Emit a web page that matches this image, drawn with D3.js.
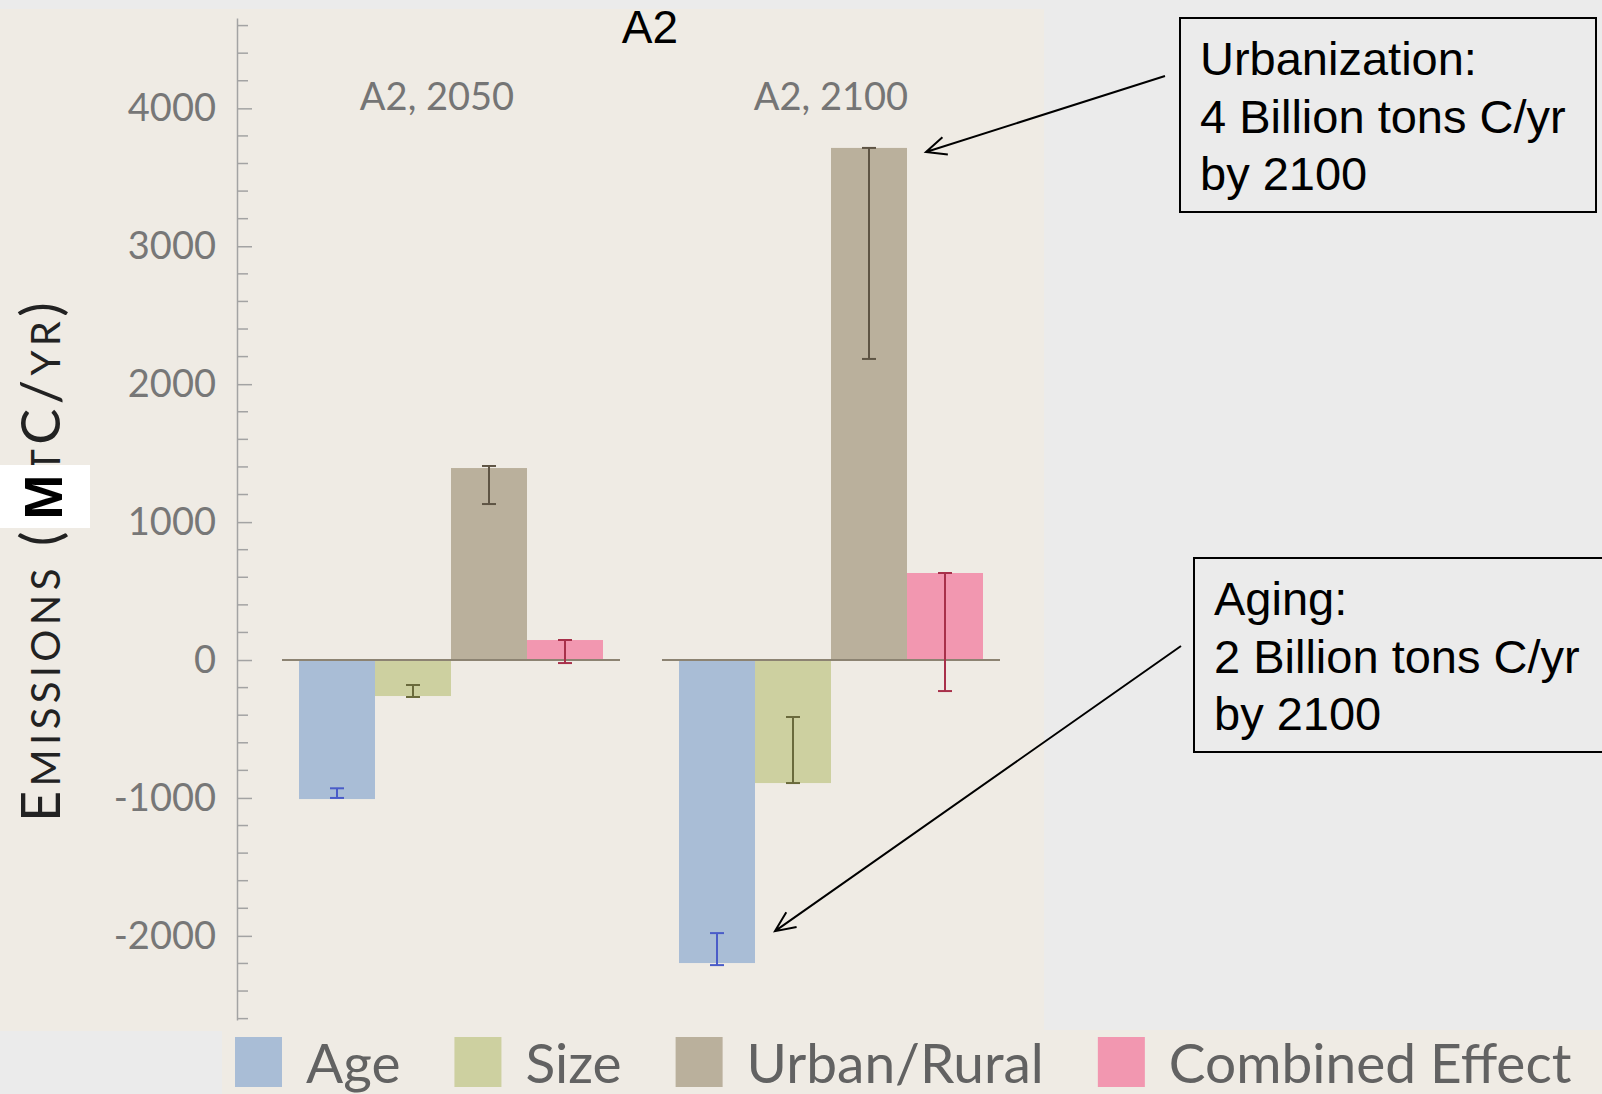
<!DOCTYPE html>
<html>
<head>
<meta charset="utf-8">
<script src="https://cdn.jsdelivr.net/npm/d3@7"></script>
<style>
    body { margin: 0; background: #ebebeb; }
    svg { display: block; }
</style>
</head>
<body>
<svg id="chart" width="1602" height="1094"></svg>
<script>
// data (MtC/yr)
var groups = ["A2, 2050", "A2, 2100"];
var series = ["Age", "Size", "Urban/Rural", "Combined Effect"];
var ageVals = [-1008, -2197];
var sizeVals = [-261, -892];
var urbanVals = [1392, 3713];
var combinedVals = [145, 631];
// error bars [low, high] per group
var ageErr = [[-1000, -930], [-2212, -1980]];
var sizeErr = [[-268, -181], [-892, -413]];
var urbanErr = [[1131, 1407], [2183, 3713]];
var combinedErr = [[-22, 145], [-225, 631]];
var yTicks = [-2000, -1000, 0, 1000, 2000, 3000, 4000];

var barColors = ["#a9bdd6", "#cdd0a0", "#bab09c", "#f297b0"];
var errColors = ["#4a5cc8", "#6a6a3c", "#5e5444", "#a8304a"];

var rows = [
    {name: series[0], vals: ageVals, err: ageErr},
    {name: series[1], vals: sizeVals, err: sizeErr},
    {name: series[2], vals: urbanVals, err: urbanErr},
    {name: series[3], vals: combinedVals, err: combinedErr}
];

var svg = d3.select("#chart");

// beige panels
svg.append("rect").attr("x", 0).attr("y", 9).attr("width", 1044).attr("height", 1022).attr("fill", "#efebe4");
svg.append("rect").attr("x", 222).attr("y", 1030).attr("width", 1380).attr("height", 64).attr("fill", "#efebe4");

var y = d3.scaleLinear().domain([-2610, 4655]).range([1020, 18]);
var x0 = d3.scaleBand().domain(groups).range([282, 1000]).paddingInner(0.1105);
var x1 = d3.scaleBand().domain(series).range([17, 321]);

// y axis, ticks pointing inward
var axisX = 237;
var gy = svg.append("g").attr("transform", "translate(" + axisX + ",0)")
    .call(d3.axisLeft(y).tickValues(yTicks).tickSize(-15).tickSizeOuter(0).tickPadding(21)
        .tickFormat(function(d) { return String(d); }));
gy.select(".domain").attr("stroke", "#a3a3a3").attr("stroke-width", 1.5);
gy.selectAll(".tick line").attr("stroke", "#a3a3a3").attr("stroke-width", 1.5);
gy.selectAll(".tick text").attr("fill", "#777").style("font-family", "Lato, sans-serif")
    .style("font-size", "38px");

var minor = d3.range(-2600, 4601, 200).filter(function(v) { return v % 1000 !== 0; });
svg.append("g").selectAll("line").data(minor).enter().append("line")
    .attr("x1", axisX).attr("x2", axisX + 11)
    .attr("y1", function(d) { return y(d); }).attr("y2", function(d) { return y(d); })
    .attr("stroke", "#a3a3a3").attr("stroke-width", 1.5);

// bars
groups.forEach(function(g, j) {
    var gg = svg.append("g").attr("transform", "translate(" + x0(g) + ",0)");
    gg.selectAll("rect").data(rows).enter().append("rect")
        .attr("x", function(d) { return x1(d.name); })
        .attr("width", x1.bandwidth())
        .attr("y", function(d) { return Math.min(y(d.vals[j]), y(0)); })
        .attr("height", function(d) { return Math.abs(y(d.vals[j]) - y(0)); })
        .attr("fill", function(d, i) { return barColors[i]; });

    gg.append("line").attr("x1", 0).attr("x2", x0.bandwidth())
        .attr("y1", y(0)).attr("y2", y(0))
        .attr("stroke", "#8c8372").attr("stroke-width", 2);

    var eb = gg.selectAll(".err").data(rows).enter().append("g")
        .attr("stroke", function(d, i) { return errColors[i]; })
        .attr("stroke-width", 2);
    eb.append("line")
        .attr("x1", function(d) { return x1(d.name) + x1.bandwidth() / 2; })
        .attr("x2", function(d) { return x1(d.name) + x1.bandwidth() / 2; })
        .attr("y1", function(d) { return y(d.err[j][0]); })
        .attr("y2", function(d) { return y(d.err[j][1]); });
    [0, 1].forEach(function(k) {
        eb.append("line")
            .attr("x1", function(d) { return x1(d.name) + x1.bandwidth() / 2 - 7; })
            .attr("x2", function(d) { return x1(d.name) + x1.bandwidth() / 2 + 7; })
            .attr("y1", function(d) { return y(d.err[j][k]); })
            .attr("y2", function(d) { return y(d.err[j][k]); });
    });

    svg.append("text").attr("x", x0(g) + x0.bandwidth() / 2 - (j === 0 ? 14 : 0)).attr("y", 110)
        .attr("text-anchor", "middle").attr("fill", "#757575")
        .style("font-family", "Lato, sans-serif").style("font-size", "38px")
        .text(g);
});

// title
svg.append("text").attr("x", 650).attr("y", 43).attr("text-anchor", "middle")
    .style("font-family", "'Liberation Sans', Arial, sans-serif").style("font-size", "46px")
    .text("A2");

// y label in small caps
var ylab = svg.append("text").attr("transform", "translate(60,560) rotate(-90)")
    .attr("text-anchor", "middle").attr("fill", "#222")
    .style("font-family", "Lato, sans-serif");
[["E", 54], ["MISSIONS", 40], [" (", 54], ["M", 54], ["T", 40], ["C/", 54], ["YR", 40], [")", 54]]
    .forEach(function(p) { ylab.append("tspan").style("font-size", p[1] + "px").text(p[0]); });
var natural = ylab.node().getComputedTextLength();
ylab.style("letter-spacing", Math.max(0, (537 - natural) / 21) + "px");

svg.append("rect").attr("x", 0).attr("y", 465).attr("width", 90).attr("height", 63).attr("fill", "#fff");
svg.append("text").attr("transform", "translate(62,497) rotate(-90)").attr("text-anchor", "middle")
    .style("font-family", "'Liberation Sans', Arial, sans-serif").style("font-size", "54px")
    .style("font-weight", "bold").text("M");

// legend
var lx = 235;
series.forEach(function(s, i) {
    svg.append("rect").attr("x", lx).attr("y", 1037).attr("width", 47).attr("height", 50)
        .attr("fill", barColors[i]);
    var t = svg.append("text").attr("x", lx + 71).attr("y", 1083).attr("fill", "#626262")
        .style("font-family", "Lato, sans-serif").style("font-size", "55px").text(s);
    lx = lx + 71 + t.node().getComputedTextLength() + 54;
});

// annotations
function arrow(x1a, y1a, x2a, y2a) {
    var a = Math.atan2(y2a - y1a, x2a - x1a), L = 22, s = 0.42;
    svg.append("path")
        .attr("d", "M" + x1a + "," + y1a + "L" + x2a + "," + y2a +
            "M" + (x2a - L * Math.cos(a - s)) + "," + (y2a - L * Math.sin(a - s)) +
            "L" + x2a + "," + y2a +
            "L" + (x2a - L * Math.cos(a + s)) + "," + (y2a - L * Math.sin(a + s)))
        .attr("fill", "none").attr("stroke", "#000").attr("stroke-width", 2);
}
function note(bx, by, bw, lines) {
    svg.append("rect").attr("x", bx).attr("y", by).attr("width", bw).attr("height", 194)
        .attr("fill", "none").attr("stroke", "#000").attr("stroke-width", 2);
    lines.forEach(function(l, i) {
        svg.append("text").attr("x", bx + 20).attr("y", by + 57 + i * 57.5)
            .style("font-family", "'Liberation Sans', Arial, sans-serif").style("font-size", "47px")
            .text(l);
    });
}
var g2 = x0(groups[1]);
arrow(1165, 76, g2 + x1(series[2]) + x1.bandwidth() + 19, y(urbanVals[1]) + 4);
arrow(1181, 646, g2 + x1(series[0]) + x1.bandwidth() + 20, y(ageErr[1][1]) - 2);
note(1180, 18, 416, ["Urbanization:", "4 Billion tons C/yr", "by 2100"]);
note(1194, 558, 430, ["Aging:", "2 Billion tons C/yr", "by 2100"]);
</script>
</body>
</html>
